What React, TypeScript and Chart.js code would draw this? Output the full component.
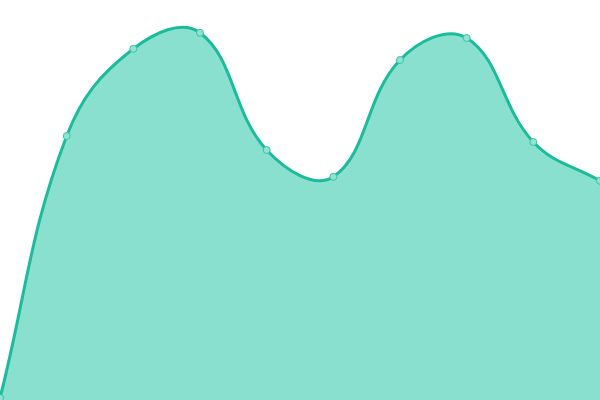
import { useEffect, useRef } from "react";
import Chart from "chart.js/auto";

const labels = ["1", "2", "3", "4", "5", "6", "7", "8", "9", "10"];
const values = [0.5, 66, 87.8, 91.8, 62.5, 55.8, 85, 90.5, 64.5, 54.8];

export default function App() {
  const chartRef = useRef<HTMLCanvasElement>(null);

  useEffect(() => {
    document.body.style.margin = "0";
    if (!chartRef.current) return;

    const chart = new Chart(chartRef.current, {
      type: "line",
      data: {
        labels,
        datasets: [
          {
            data: values,
            fill: "origin",
            backgroundColor: "rgba(19, 193, 159, 0.5)",
            borderColor: "#1abc9c",
            borderWidth: 3,
            tension: 0.4,
            pointRadius: 3.5,
            pointBorderWidth: 1,
            pointBackgroundColor: "#90e3d2",
            pointBorderColor: "#36c4a6",
          },
        ],
      },
      options: {
        animation: false,
        responsive: false,
        layout: { padding: 0, autoPadding: false },
        plugins: {
          legend: { display: false },
          tooltip: { enabled: false },
        },
        scales: {
          x: { display: false, offset: false },
          y: { display: false, min: 0, max: 100 },
        },
      },
    });

    return () => {
      chart.destroy();
    };
  }, []);

  return <canvas ref={chartRef} width={600} height={400} />;
}
